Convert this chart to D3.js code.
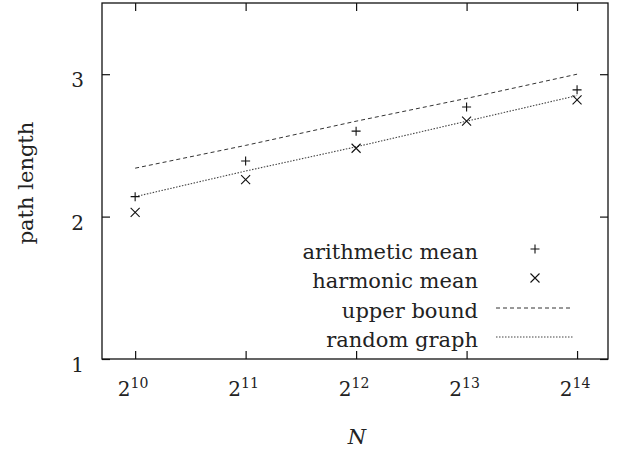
<!DOCTYPE html>
<html>
<head>
<meta charset="utf-8">
<script src="https://cdn.jsdelivr.net/npm/d3@7"></script>
<style>
  html, body { margin: 0; padding: 0; background: #fff; }
  svg { display: block; }
  text { font-family: "DejaVu Serif", "Liberation Serif", serif; fill: #222; }
</style>
</head>
<body>
<svg id="chart" width="621" height="452"></svg>
<script>
// ---- data ----
const nValues = [1024, 2048, 4096, 8192, 16384];
const xTickExponents = [10, 11, 12, 13, 14];
const yTickValues = [1, 2, 3];
const arithmeticMean = [2.14, 2.39, 2.60, 2.77, 2.89];
const harmonicMean = [2.03, 2.26, 2.48, 2.67, 2.82];
const upperBound = [2.34, 2.50, 2.67, 2.83, 3.00];
const randomGraph = [2.14, 2.32, 2.49, 2.67, 2.85];
const legendLabels = ["arithmetic mean", "harmonic mean", "upper bound", "random graph"];

// ---- layout ----
const plotLeft = 102, plotRight = 608, plotTop = 3, plotBottom = 359;
const svg = d3.select("#chart");

const x = d3.scaleLog().base(2).domain([Math.pow(2, 9.7), Math.pow(2, 14.28)]).range([plotLeft, plotRight]);
const y = d3.scaleLinear().domain([1, 3.5]).range([plotBottom, plotTop]);

// ticks (inward, on all four sides)
const tickLen = 8;
const axisStyle = g => {
  g.select(".domain").remove();
  g.selectAll(".tick line").attr("stroke", "#111").attr("stroke-width", 1.2);
  g.selectAll(".tick text").remove();
};
svg.append("g").attr("transform", `translate(0,${plotBottom})`)
  .call(d3.axisBottom(x).tickValues(nValues).tickSize(-tickLen)).call(axisStyle);
svg.append("g").attr("transform", `translate(0,${plotTop})`)
  .call(d3.axisTop(x).tickValues(nValues).tickSize(-tickLen)).call(axisStyle);
svg.append("g").attr("transform", `translate(${plotLeft},0)`)
  .call(d3.axisLeft(y).tickValues(yTickValues).tickSize(-tickLen)).call(axisStyle);
svg.append("g").attr("transform", `translate(${plotRight},0)`)
  .call(d3.axisRight(y).tickValues(yTickValues).tickSize(-tickLen)).call(axisStyle);

// frame
svg.append("rect").attr("x", plotLeft).attr("y", plotTop)
  .attr("width", plotRight - plotLeft).attr("height", plotBottom - plotTop)
  .attr("fill", "none").attr("stroke", "#111").attr("stroke-width", 1.3);

// x tick labels 2^k
const xl = svg.append("g");
nValues.forEach((n, i) => {
  const t = xl.append("text").attr("x", x(n) - 2).attr("y", 396)
    .attr("text-anchor", "middle").attr("font-size", 20);
  t.append("tspan").text("2");
  t.append("tspan").attr("font-size", 14).attr("dy", -8).text(xTickExponents[i]);
});

// y tick labels
svg.append("g").selectAll("text").data(yTickValues).join("text")
  .attr("x", 84).attr("y", d => y(d) + 13)
  .attr("text-anchor", "end").attr("font-size", 20).text(d => d);

// axis titles
svg.append("text").attr("x", 357).attr("y", 444).attr("text-anchor", "middle")
  .attr("font-size", 21).attr("font-style", "italic").text("N");
svg.append("text").attr("transform", `translate(33,183) rotate(-90)`)
  .attr("text-anchor", "middle").attr("font-size", 21).text("path length");

// lines
const line = d3.line().x((d, i) => x(nValues[i])).y(d => y(d));
svg.append("path").datum(upperBound).attr("d", line)
  .attr("fill", "none").attr("stroke", "#333").attr("stroke-width", 1)
  .attr("stroke-dasharray", "4,3");
svg.append("path").datum(randomGraph).attr("d", line)
  .attr("fill", "none").attr("stroke", "#444").attr("stroke-width", 1.1)
  .attr("stroke-dasharray", "1.5,1.5");

// markers
const plusPath = s => `M${-s},0H${s}M0,${-s}V${s}`;
const crossPath = s => `M${-s},${-s}L${s},${s}M${-s},${s}L${s},${-s}`;
svg.append("g").selectAll("path").data(arithmeticMean).join("path")
  .attr("transform", (d, i) => `translate(${x(nValues[i])},${y(d)})`)
  .attr("d", plusPath(4.5)).attr("stroke", "#111").attr("stroke-width", 1.1);
svg.append("g").selectAll("path").data(harmonicMean).join("path")
  .attr("transform", (d, i) => `translate(${x(nValues[i])},${y(d)})`)
  .attr("d", crossPath(4.5)).attr("stroke", "#111").attr("stroke-width", 1.1);

// legend
const rowY = [249, 278, 308, 337];
const lg = svg.append("g");
legendLabels.forEach((lab, i) => {
  lg.append("text").attr("x", 478).attr("y", rowY[i] + 10)
    .attr("text-anchor", "end").attr("font-size", 21).text(lab);
});
lg.append("path").attr("transform", `translate(535,${rowY[0]})`)
  .attr("d", plusPath(4.5)).attr("stroke", "#111").attr("stroke-width", 1.1);
lg.append("path").attr("transform", `translate(535,${rowY[1]})`)
  .attr("d", crossPath(4.5)).attr("stroke", "#111").attr("stroke-width", 1.1);
lg.append("line").attr("x1", 496).attr("x2", 573).attr("y1", rowY[2]).attr("y2", rowY[2])
  .attr("stroke", "#333").attr("stroke-width", 1).attr("stroke-dasharray", "4,3");
lg.append("line").attr("x1", 496).attr("x2", 573).attr("y1", rowY[3]).attr("y2", rowY[3])
  .attr("stroke", "#444").attr("stroke-width", 1.1).attr("stroke-dasharray", "1.5,1.5");
</script>
</body>
</html>
